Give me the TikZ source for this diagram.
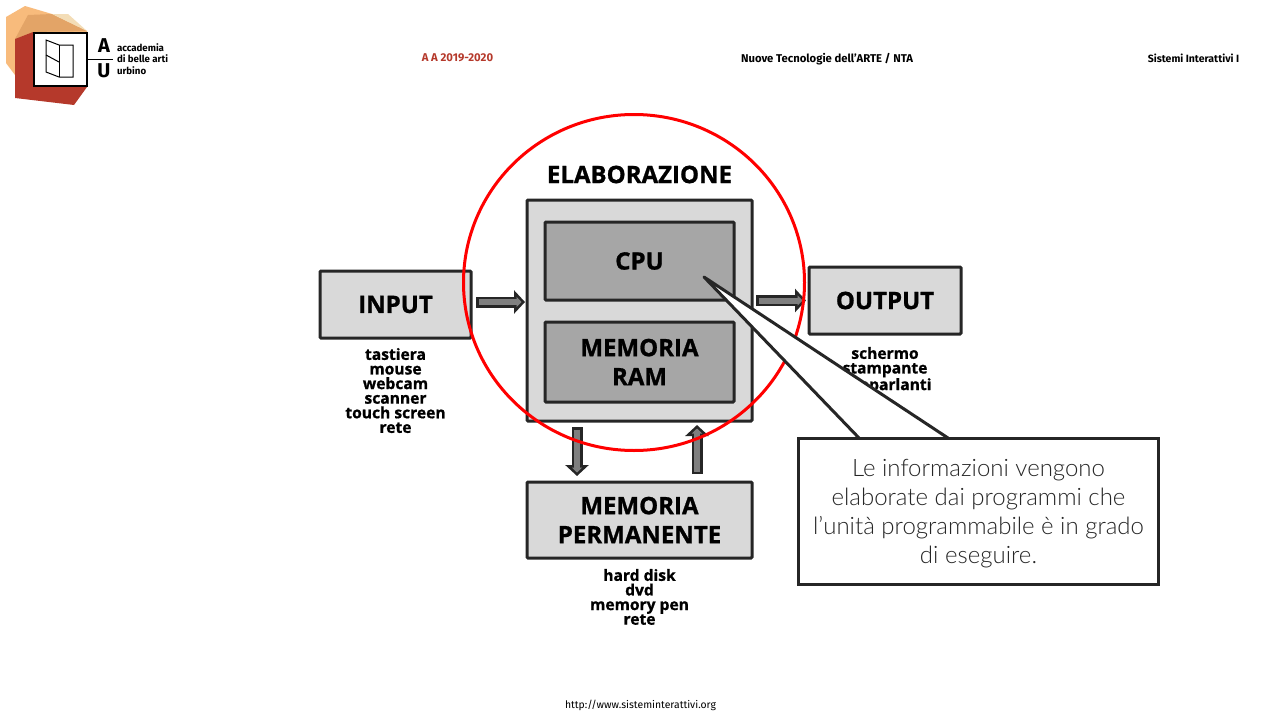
\documentclass[tikz,border=0pt]{standalone}
\usepackage{fontspec}
\setmainfont{Fira Sans}
\newfontfamily\heavyfont[BoldFeatures={FakeBold=1}]{Open Sans}
\newfontfamily\calloutfont{Lato Light}
\usetikzlibrary{arrows.meta,positioning,shapes.geometric}

\definecolor{boxline}{HTML}{262626}
\definecolor{boxfill}{HTML}{D9D9D9}
\definecolor{cpufill}{HTML}{A6A6A6}
\definecolor{arrowfill}{HTML}{7F7F7F}
\definecolor{logolight}{HTML}{F8BB7C}
\definecolor{logomid}{HTML}{E3A467}
\definecolor{logopale}{HTML}{F3DDB7}
\definecolor{logored}{HTML}{B5392B}

\begin{document}
\begin{tikzpicture}[
    x = 1pt,
    y = -1pt,
    every node/.style = {inner sep=0pt, outer sep=0pt},
    box/.style = {
        rectangle,
        rounded corners=1pt,
        draw=boxline,
        line width=3pt,
        fill=boxfill,
        align=center,
        font=\heavyfont\bfseries\fontsize{24}{29}\selectfont
    },
    inner box/.style = {box, fill=cpufill},
    list/.style = {
        align=center,
        font=\heavyfont\bfseries\fontsize{15.6}{14.6}\selectfont
    },
    header/.style = {font=\bfseries\fontsize{11.3}{13}\selectfont},
    arrow/.style 2 args = {
        line width=11pt,
        draw=boxline,
        shorten <=#1,
        shorten >=#2,
        -{Triangle[length=11pt,width=23pt]},
        postaction = {
            draw=arrowfill,
            line width=6pt,
            shorten <=#1+2.5pt,
            shorten >=#2+3.5pt,
            -{Triangle[length=5pt,width=10pt]}
        }
    }
]
\useasboundingbox (0,0) rectangle (1280,720);

% logo
\fill[logolight] (6,17) -- (25,6) -- (52,14) -- (87,31) -- (87,60) -- (15,75) -- (6,63) -- cycle;
\fill[logomid] (15,39) -- (28,15) -- (52,14) -- (87,31) -- (33,32) -- cycle;
\fill[logopale] (52,14) -- (68,14) -- (87,31) -- cycle;
\fill[logored] (15,39) -- (33,32) -- (87,87) -- (74,105) -- (15,98) -- cycle;
\node[draw=black, fill=white, line width=2pt, minimum size=53pt] (logo) at (60,59) {};
\draw[line width=1pt] (46,40) -- (59,45) -- (73,45) -- (73,77) -- (59,77) -- (46,72) -- cycle;
\draw[line width=1pt] (59,45) -- (59,77);
\draw[line width=1pt] (46,55) -- (59,62);
\node[font=\bfseries\fontsize{20}{20}\selectfont] (letterA) at (104,46) {A};
\node[font=\bfseries\fontsize{20}{20}\selectfont] (letterU) at (104,71) {U};
\draw (logo.east) -- ++(26,0) coordinate (logoend);
\node[align=left, anchor=west, font=\bfseries\fontsize{9.7}{11.5}\selectfont] (school) at (117,59) {accademia\\di belle arti\\urbino};

% header and footer
\node[header, text=logored] (year) at (457.5,58) {A A 2019-2020};
\node[header] (course) at (827,59) {Nuove Tecnologie dell'ARTE / NTA};
\node[font=\bfseries\fontsize{10.5}{12}\selectfont] (subject) at (1193.5,58) {Sistemi Interattivi I};
\node[font=\fontsize{10.4}{12}\selectfont] (site) at (640.5,705) {http://www.sisteminterattivi.org};

% blocks
\node[box, minimum width=225pt, minimum height=221pt] (proc) at (639.5,310.5) {};
\node[inner box, minimum width=189pt, minimum height=78pt] (cpu) at (639.5,261) {CPU};
\node[inner box, minimum width=189pt, minimum height=80pt] (ram) at (639.5,362) {MEMORIA\\RAM};
\node[box, minimum width=151pt, minimum height=67pt] (input) at (395.5,304.5) {INPUT};
\node[box, minimum width=152pt, minimum height=67pt] (output) at (885,300.5) {OUTPUT};
\node[box, minimum width=225pt, minimum height=76pt] (perm) at (639.5,520) {MEMORIA\\PERMANENTE};
\node[font=\heavyfont\bfseries\fontsize{24}{29}\selectfont] (title) at (639.5,174.5) {ELABORAZIONE};

% lists
\node[list, below=10pt of input.south] (inputlist) {tastiera\\mouse\\webcam\\scanner\\touch screen\\rete};
\node[list, below=13pt of output.south] (outputlist) {schermo\\stampante\\altoparlanti};
\node[list, below=11pt of perm.south] (permlist) {hard disk\\dvd\\memory pen\\rete};

% connectors
\draw[arrow={5pt}{2pt}] ([yshift=2.5pt]input.east) -- ([yshift=2.5pt]input.east -| proc.west);
\draw[arrow={4pt}{3pt}] (output.west -| proc.east) -- (output.west);
\draw[arrow={6pt}{6pt}] ([xshift=-62.5pt]proc.south) -- ([xshift=-62.5pt]perm.north);
\draw[arrow={8pt}{4pt}] ([xshift=57.5pt]perm.north) -- ([xshift=57.5pt]proc.south);

% red circle
\node[draw=red, line width=3pt, ellipse, minimum width=341pt, minimum height=336pt] (focus) at (634,282.5) {};

% callout
\node[draw=boxline, line width=3pt, fill=white, minimum width=360pt, minimum height=146pt] (note) at (978.5,511) {};
\node[align=center, text=boxline, font=\calloutfont\fontsize{24}{29}\selectfont] (notetext) at (978.5,514) {Le informazioni vengono\\elaborate dai programmi che\\l’unità programmabile è in grado\\di eseguire.};
\coordinate (tip) at (704,277);
\coordinate (basea) at (859,438);
\coordinate (baseb) at (948,438);
\fill[white] ([yshift=2pt]basea) -- (tip) -- ([yshift=2pt]baseb) -- cycle;
\draw[draw=boxline, line width=3pt, line join=round] (basea) -- (tip) -- (baseb);

\end{tikzpicture}
\end{document}
